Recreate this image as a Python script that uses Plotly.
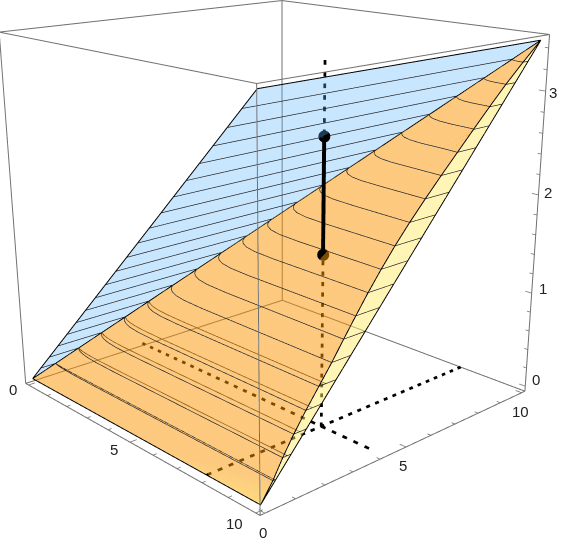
import numpy as np
import plotly.graph_objects as go

# axis ticks and labels
x_ticks = list(range(0, 11))
y_ticks = list(range(0, 11))
z_ticks = [round(0.2 * i, 1) for i in range(0, 18)]
x_labels = {0: (-15, -4), 5: (-16, -6), 10: (-21, -9)}
y_labels = {0: (-2, -18), 5: (-3, -17), 10: (-1, -18)}
z_labels = {0: (10, 7), 1: (11, 5), 2: (9, 2), 3: (7, -1)}

# box limits
x_lo, x_hi = -0.1642, 10.1642
y_lo, y_hi = -0.1642, 10.1642
z_lo, z_hi = -0.0651, 3.5323

# surface heights, read along the diagonal
slope = 0.347
contour_d = [0.5 * i for i in range(0, 21)]
# how far each contour has fallen back in y when it reaches x=10
contour_gap = [0, .10, .28, .42, .52, .59, .66, .76, .85, .93, .98, 1.0,
               .98, .92, .84, .74, .64, .53, .40, .22, 0]
# the lowest levels show a second line just above the first
double_d = [.5, 1, 1.5, 2, 2.5]
double_gap = [.04, .13, .22, .30, .35]
# bend of a contour right after it leaves the diagonal
bend_dx = [0, .05, .12, .25, .45, .75, 1.2, 2.0]
bend_q = [0, .12, .24, .42, .60, .76, .87, .93]

# the cross section
x0, y0 = 8, 4
z_top, z_mid, z_end = 2.78, 1.70, 3.47

GRAY = '#707070'
LINE = '#222222'
ORANGE = '#FA9400'
ORANGE_LIGHT = '#FFB800'
fig = go.Figure()


def add_line(xs, ys, zs, color=LINE, width=1.5):
    fig.add_trace(go.Scatter3d(x=xs, y=ys, z=zs, mode='lines', hoverinfo='skip', showlegend=False,
                               line=dict(color=color, width=width)))


def add_dots(a, b, period, size, make):
    # short solid pieces, since the gl dash pattern comes out too fine
    xs, ys, zs = [], [], []
    t = a
    while t < b:
        px, py, pz = make(t)
        qx, qy, qz = make(min(t + size, b))
        xs += [px, qx, None]
        ys += [py, qy, None]
        zs += [pz, qz, None]
        t += period
    add_line(xs, ys, zs, color='black', width=5.5)


def contour(d, gap):
    # one level on the orange sheet, from the diagonal out to x=10
    reach = min(1.0, (10 - d) / 2.0)
    xs = [d + a * reach for a in bend_dx]
    ys = [d - gap * q for q in bend_q]
    xs += [(xs[-1] + 10) / 2, 10]
    ys += [(ys[-1] + d - gap) / 2, d - gap]
    return xs, ys


def add_mesh(xs, ys, zs, i, j, k, opacity, color=None, vertexcolor=None):
    fig.add_trace(go.Mesh3d(x=xs, y=ys, z=zs, i=i, j=j, k=k, color=color, vertexcolor=vertexcolor, opacity=opacity,
                            flatshading=True, hoverinfo='skip', showscale=False,
                            lighting=dict(ambient=1, diffuse=0, specular=0, roughness=1, fresnel=0)))


# blue sheet
add_mesh([0, 10, 10], [0, 0, 10], [0, slope * 10, slope * 10], [0], [1], [2], 0.33, color='#5CB3FF')

# orange sheet
rows = [contour(d, g) for d, g in zip(contour_d, contour_gap)]
n = len(rows[0][0])
ox = [v for r in rows for v in r[0]]
oy = [v for r in rows for v in r[1]]
oz = [slope * d for d in contour_d for _ in range(n)]
ii, jj, kk = [], [], []
for r in range(len(rows) - 1):
    for c in range(n - 1):
        a = r * n + c
        ii += [a, a]
        jj += [a + 1, a + n + 1]
        kk += [a + n + 1, a + n]
tint = [ORANGE] * len(ox)
tint[n - 1] = ORANGE_LIGHT
add_mesh(ox, oy, oz, ii, jj, kk, 0.5, vertexcolor=tint)

# yellow strip on the x=10 side
yx = [10 for _ in contour_d for _ in range(2)]
yy = [v for d, g in zip(contour_d, contour_gap) for v in (d - g, d)]
yz = [slope * d for d in contour_d for _ in range(2)]
ii, jj, kk = [], [], []
for r in range(len(contour_d) - 1):
    a = 2 * r
    ii += [a, a]
    jj += [a + 1, a + 3]
    kk += [a + 3, a + 2]
add_mesh(yx, yy, yz, ii, jj, kk, 0.5, color='#FFEB6B')

# contours
for d, g, (cx, cy) in zip(contour_d[1:-1], contour_gap[1:-1], rows[1:-1]):
    h = slope * d
    add_line(cx, cy, [h] * len(cx))                       # orange
    add_line([10, 10], [d - g, d], [h, h])                # yellow
    add_line([d, d], [0, d], [h, h])                      # blue
for d, g in zip(double_d, double_gap):
    cx, cy = contour(d, g)
    add_line(cx, cy, [slope * d] * len(cx))

# sheet outlines
add_line([0, 10, 10, 0], [0, 0, 10, 0], [0, 0, slope * 10, 0], color='#000000', width=2)
add_line([0, 10], [0, 0], [0, slope * 10], color='#000000', width=2)
add_line([10, 10], [0, 10], [slope * 10, slope * 10], color='#000000', width=2)
add_line([10] * 21, [d - g for d, g in zip(contour_d, contour_gap)], [slope * d for d in contour_d], color='#000000', width=2)

# bounding box, pulled in a hair so the gl clip at the axis range does not eat it
eps = 0.01
bx0, bx1, by0, by1, bz0, bz1 = x_lo + eps, x_hi - eps, y_lo + eps, y_hi - eps, z_lo + eps, z_hi - eps
for a, b in [(bx0, by0), (bx1, by0), (bx1, by1), (bx0, by1)]:
    add_line([a, a], [b, b], [bz0, bz1], color=GRAY, width=2)
for z in (bz0, bz1):
    add_line([bx0, bx1, bx1, bx0, bx0], [by0, by0, by1, by1, by0], [z] * 5, color=GRAY, width=2)

# tick marks
for t in x_ticks:
    add_line([t, t], [by0, by0 + (0.22 if t % 5 == 0 else 0.12)], [bz0, bz0], color=GRAY)
for t in y_ticks:
    add_line([bx1, bx1 - (0.22 if t % 5 == 0 else 0.12)], [t, t], [bz0, bz0], color=GRAY)
for t in z_ticks:
    add_line([bx1, bx1 - (0.22 if t == int(t) else 0.12)], [by1, by1], [t, t], color=GRAY)

# dotted guides and the thick segment
add_dots(0, 10, 0.36, 0.15, lambda t: (x0, t, 0))
add_dots(0, 10, 0.4, 0.16, lambda t: (t, y0, 0))
add_dots(0, z_end, 0.1, 0.04, lambda t: (x0, y0, t))
add_line([x0, x0], [y0, y0], [z_mid, z_top], color='black', width=8)
fig.add_trace(go.Scatter3d(x=[x0, x0], y=[y0, y0], z=[z_mid, z_top], mode='markers', hoverinfo='skip', showlegend=False,
                           marker=dict(color='black', size=7)))

annotations = []
font = dict(family='Liberation Sans', size=15, color='#222222')
for t, (dx, dy) in x_labels.items():
    annotations.append(dict(x=t, y=y_lo, z=z_lo, text=str(t), showarrow=False, font=font, xshift=dx, yshift=dy))
for t, (dx, dy) in y_labels.items():
    annotations.append(dict(x=x_hi, y=t, z=z_lo, text=str(t), showarrow=False, font=font, xshift=dx, yshift=dy))
for t, (dx, dy) in z_labels.items():
    annotations.append(dict(x=x_hi, y=y_hi, z=t, text=str(t), showarrow=False, font=font, xshift=dx, yshift=dy))

hidden = dict(visible=False, showspikes=False)
fig.update_layout(width=1052, height=1022, margin=dict(l=0, r=0, t=0, b=0), paper_bgcolor='white',
                  showlegend=False,
                  scene=dict(xaxis=dict(range=[x_lo, x_hi], **hidden),
                             yaxis=dict(range=[y_lo, y_hi], **hidden),
                             zaxis=dict(range=[z_lo, z_hi], **hidden),
                             aspectmode='manual', aspectratio=dict(x=1.037, y=1.033, z=1.032),
                             camera=dict(eye=dict(x=2.4379, y=-2.2217, z=0.9838),
                                         center=dict(x=0.036, y=-0.002, z=-0.147),
                                         up=dict(x=-0.2389, y=0.2229, z=0.9451)),
                             annotations=annotations))

# plotly's 3d view angle is fixed, so the flatter perspective needs a larger scene, slid back over the window
shift = """
var gd = document.getElementById('{plot_id}');
document.documentElement.style.overflow = 'hidden';
document.body.style.overflow = 'hidden';
document.body.style.margin = '0';
gd.style.position = 'absolute';
gd.style.left = '-245px';
gd.style.top = '-239px';
"""
fig.write_html("out.html", config=dict(displayModeBar=False), post_script=shift)
